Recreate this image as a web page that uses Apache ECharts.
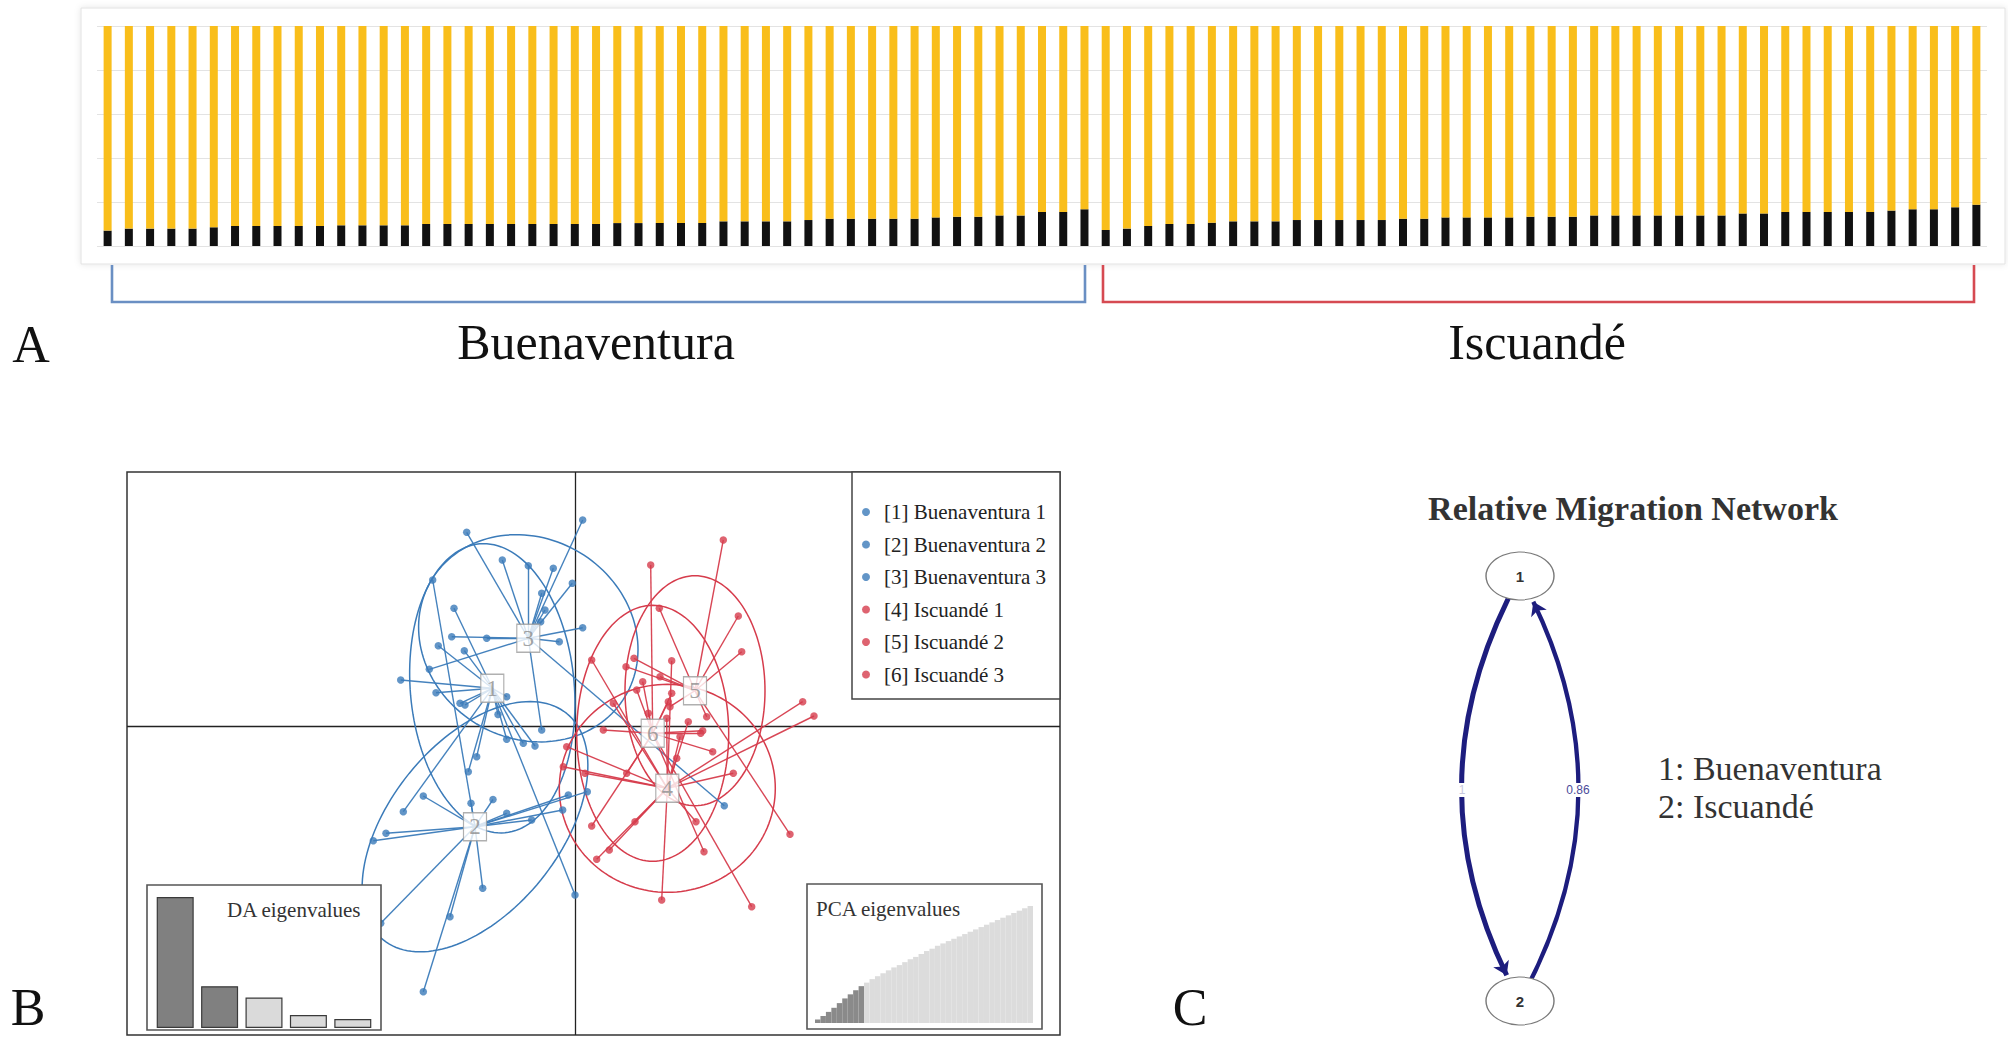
<!DOCTYPE html>
<html><head><meta charset="utf-8">
<script src="https://cdn.jsdelivr.net/npm/echarts@6/dist/echarts.min.js"></script>
<style>html,body{margin:0;padding:0;background:#fff}#c{width:2008px;height:1050px}</style>
</head><body><div id="c"></div>
<script>
// ---------- Panel A: membership (black cluster share, %) ----------
const buenaventuraBlack = [7.0, 7.9, 7.9, 7.9, 7.9, 8.5, 9.1, 9.1, 9.1, 9.1, 9.1, 9.4, 9.4, 9.4, 9.4, 10.0, 10.0, 10.0, 10.0, 10.0, 10.0, 10.0, 10.0, 10.0, 10.4, 10.4, 10.5, 10.5, 10.5, 11.2, 11.2, 11.2, 11.2, 11.8, 12.4, 12.4, 12.4, 12.4, 12.4, 13.0, 13.3, 13.3, 13.9, 13.9, 15.5, 15.5, 16.7];
const iscuandeBlack = [7.3, 7.9, 9.1, 10.0, 10.0, 10.6, 11.2, 11.2, 11.2, 11.8, 11.8, 11.8, 11.8, 11.8, 12.4, 12.4, 13.0, 13.0, 13.0, 13.0, 13.3, 13.3, 13.3, 13.9, 13.9, 13.9, 13.9, 13.9, 13.9, 13.9, 14.8, 14.8, 15.5, 15.5, 15.5, 15.5, 15.5, 16.1, 16.7, 16.7, 17.6, 18.8];
const populationLabels = ['Buenaventura', 'Iscuandé'];
const yTicks = [0, 20, 40, 60, 80, 100];

// ---------- Panel B: DAPC scatter ----------
const groupNames = ['[1] Buenaventura 1', '[2] Buenaventura 2', '[3] Buenaventura 3', '[4] Iscuandé 1', '[5] Iscuandé 2', '[6] Iscuandé 3'];
const groupCentroids = [[-8.27, 3.82], [-10.0, -10.02], [-4.67, 8.82], [9.23, -6.18], [12.0, 3.58], [7.77, -0.68]];
const group1Points = [[-12.1, 11.82], [-13.67, 8.08], [-11.07, 7.58], [-17.43, 4.65], [-13.9, 3.38], [-11.5, 2.32], [-11.0, 2.15], [-6.83, 2.98], [-6.83, -1.28], [-5.17, -1.68], [-4.0, -1.95], [-9.83, -3.02], [-10.67, -4.52], [-17.17, -8.52], [0.0, -16.85], [-7.7, 1.2]];
const group2Points = [[-14.23, 14.65], [-10.4, -7.68], [-15.17, -6.95], [-18.9, -10.68], [-20.17, -11.42], [-6.83, -8.68], [-4.33, -9.35], [-1.23, -8.35], [-0.67, -6.85], [1.23, -6.52], [-9.23, -16.18], [-12.5, -19.02], [-19.43, -19.68], [-15.17, -26.52], [-8.2, -7.3]];
const group3Points = [[-10.83, 19.42], [-7.27, 16.65], [-4.67, 16.08], [-2.17, 15.82], [-3.33, 13.32], [-0.27, 14.32], [0.77, 20.65], [-12.33, 8.98], [-8.83, 8.82], [-14.57, 5.72], [-3.43, 10.48], [0.77, 9.88], [-1.57, 8.48], [-3.33, -0.35], [14.93, -7.92], [-3.0, 11.65]];
const group4Points = [[1.67, 6.65], [9.67, 6.58], [3.83, 2.32], [9.17, 0.82], [11.33, 0.48], [10.17, -3.18], [-0.83, -2.02], [-1.17, -4.02], [1.0, -4.68], [15.83, -4.68], [22.77, 2.48], [23.9, 1.05], [12.1, -9.52], [6.0, -9.52], [3.43, -12.35], [2.17, -13.28], [8.67, -17.35], [10.5, -1.02]];
const group5Points = [[14.83, 18.65], [8.43, 11.82], [16.33, 11.05], [16.67, 7.48], [5.9, 6.82], [5.1, 5.98], [21.5, -10.78], [9.5, 1.98], [13.17, 0.98], [8.5, 4.98]];
const group6Points = [[7.57, 16.15], [6.77, 4.48], [6.17, 3.65], [9.67, 3.32], [9.33, 2.48], [2.83, -0.35], [12.77, -0.42], [12.57, -0.68], [13.77, -2.52], [12.9, -12.52], [1.67, -9.95], [17.67, -18.02], [7.33, 1.32], [5.17, -4.68]];
// inertia ellipses: [centerX, centerY, semiMajor, semiMinor, angleDeg]
const groupEllipses = [[-8.27, 3.82, 14.5, 8.2, 95], [-10.0, -10.02, 14.57, 8.47, 51], [-4.67, 8.82, 11.3, 10.0, -31], [9.23, -6.18, 10.8, 10.4, 0], [12.0, 3.58, 11.5, 7.0, 90], [7.77, -0.68, 12.8, 7.6, 90]];
const daEigenvalues = [100, 31.9, 23.3, 9.9, 6.9];
const daRetained = 2;
const pcaCumulative = [3, 6, 9.5, 13, 17, 21, 24.5, 28, 31.5, 34.5, 37.5, 40, 42.5, 45, 47.5, 49.5, 52, 54.5, 56.5, 59, 61.5, 63.5, 66, 68, 70, 72, 74, 76, 78, 80, 82, 84, 86, 88, 90, 92, 94, 96, 98, 100];
const pcaRetained = 9;

// ---------- Panel C: relative migration network ----------
const migrationNodes = ['1', '2'];
const migrationNodeNames = ['1: Buenaventura', '2: Iscuandé'];
const migrationEdges = [{ source: '1', target: '2', value: 1 }, { source: '2', target: '1', value: 0.86 }];

// ---------- build ----------
const SERIF = "'Liberation Serif','Times New Roman','DejaVu Serif',serif";
const SANS = "'Liberation Sans',Arial,sans-serif";
const BLUE = '#3b7bb9', RED = '#d63c4c';
const groupColors = [BLUE, BLUE, BLUE, RED, RED, RED];
const groupPoints = [group1Points, group2Points, group3Points, group4Points, group5Points, group6Points];

const membershipBlack = buenaventuraBlack.concat(iscuandeBlack);
const membershipYellow = membershipBlack.map(v => +(100 - v).toFixed(1));
const individualLabels = buenaventuraBlack.map((_, i) => 'B' + (i + 1)).concat(iscuandeBlack.map((_, i) => 'I' + (i + 1)));

const X_MIN = -44.8, X_MAX = 48.5, Y_MIN = -30.85, Y_MAX = 25.45;

const series = [];
// Panel A bars
series.push({ type: 'bar', xAxisIndex: 0, yAxisIndex: 0, stack: 'm', data: membershipBlack, barWidth: 8, itemStyle: { color: '#111111' }, z: 2 });
series.push({ type: 'bar', xAxisIndex: 0, yAxisIndex: 0, stack: 'm', data: membershipYellow, barWidth: 8, itemStyle: { color: '#f9be1b' }, z: 2 });

// Panel B zero lines
series.push({ type: 'lines', name: 'axes0', coordinateSystem: 'cartesian2d', xAxisIndex: 1, yAxisIndex: 1, silent: true, z: 1,
  lineStyle: { color: '#222', width: 1.3, opacity: 1 },
  data: [{ coords: [[0, Y_MIN], [0, Y_MAX]] }, { coords: [[X_MIN, 0], [X_MAX, 0]] }] });

// ellipses
series.push({ type: 'custom', name: 'ellipses', xAxisIndex: 1, yAxisIndex: 1, silent: true, z: 2,
  renderItem: function (params, api) {
    const cx = api.value(0), cy = api.value(1), a = api.value(2), b = api.value(3), th = api.value(4) * Math.PI / 180;
    const pts = [];
    for (let k = 0; k < 144; k++) {
      const t = k / 144 * Math.PI * 2;
      pts.push(api.coord([cx + a * Math.cos(t) * Math.cos(th) - b * Math.sin(t) * Math.sin(th),
                          cy + a * Math.cos(t) * Math.sin(th) + b * Math.sin(t) * Math.cos(th)]));
    }
    return { type: 'polygon', shape: { points: pts }, style: { fill: 'none', stroke: api.visual('color'), lineWidth: 1.5 } };
  },
  dimensions: ['x', 'y', 'a', 'b', 'ang'], encode: { x: 0, y: 1 },
  data: groupEllipses.map((e, i) => ({ value: e, itemStyle: { color: groupColors[i] } })) });

groupPoints.forEach((pts, g) => {
  series.push({ type: 'lines', name: 'links' + g, coordinateSystem: 'cartesian2d', xAxisIndex: 1, yAxisIndex: 1, silent: true, z: 2,
    lineStyle: { color: groupColors[g], width: 1.4, opacity: 0.95 },
    data: pts.map(p => ({ coords: [p, groupCentroids[g]] })) });
  series.push({ type: 'scatter', name: groupNames[g], xAxisIndex: 1, yAxisIndex: 1, z: 3,
    symbol: 'circle', symbolSize: 7.5, itemStyle: { color: groupColors[g] }, data: pts });
});

series.push({ type: 'scatter', name: 'centroids', xAxisIndex: 1, yAxisIndex: 1, z: 5, symbol: 'rect', symbolSize: [23, 28],
  itemStyle: { color: '#ffffff', borderColor: '#9c9c9c', borderWidth: 1.3 },
  label: { show: true, position: 'inside', fontFamily: SERIF, fontSize: 23, color: '#8c8c8c' },
  data: groupCentroids.map((c, i) => ({ value: c, label: { formatter: String(i + 1) } })) });

// DA eigenvalues inset
series.push({ type: 'bar', xAxisIndex: 2, yAxisIndex: 2, z: 6, barWidth: 37,
  data: daEigenvalues.map((v, i) => ({ value: v, itemStyle: { color: i < daRetained ? '#808080' : '#dadada', borderColor: '#3a3a3a', borderWidth: 1.2 } })) });
// PCA eigenvalues inset
series.push({ type: 'bar', xAxisIndex: 3, yAxisIndex: 3, z: 6, barCategoryGap: '0%',
  data: pcaCumulative.map((v, i) => ({ value: v, itemStyle: { color: i < pcaRetained ? '#8a8a8a' : '#dcdcdc', borderWidth: 0 } })) });

// Panel C graph
series.push({ type: 'graph', coordinateSystem: 'cartesian2d', xAxisIndex: 4, yAxisIndex: 4, z: 6,
  symbol: 'circle', symbolSize: [68, 48],
  itemStyle: { color: '#ffffff', borderColor: '#7a7a7a', borderWidth: 1.2 },
  label: { show: true, position: 'inside', fontFamily: SANS, fontSize: 15, fontWeight: 'bold', color: '#333' },
  edgeSymbol: ['none', 'arrow'], edgeSymbolSize: [0, 13],
  lineStyle: { color: '#1d1d7e', curveness: -0.275, opacity: 1 },
  data: migrationNodes.map((n, i) => ({ name: n, value: [0.5, i === 0 ? 0.928 : 0.078] })),
  links: migrationEdges.map(e => ({ source: e.source, target: e.target, value: e.value, lineStyle: { width: 5 * e.value } })) });

const hidden = { show: false };
const option = {
  animation: false,
  backgroundColor: '#ffffff',
  grid: [
    { left: 97, top: 26, width: 1890, height: 220 },
    { left: 127, top: 472, width: 933, height: 563, show: true, borderColor: '#333', borderWidth: 1.5, backgroundColor: 'transparent' },
    { left: 153, top: 897, width: 222, height: 131 },
    { left: 815, top: 906, width: 218, height: 117 },
    { left: 1400, top: 540, width: 240, height: 500 }
  ],
  xAxis: [
    { gridIndex: 0, type: 'category', data: individualLabels, axisLine: hidden, axisTick: hidden, axisLabel: hidden },
    { gridIndex: 1, type: 'value', min: X_MIN, max: X_MAX, show: false },
    { gridIndex: 2, type: 'category', data: daEigenvalues.map((_, i) => 'DA' + (i + 1)), show: false },
    { gridIndex: 3, type: 'category', data: pcaCumulative.map((_, i) => 'PC' + (i + 1)), show: false },
    { gridIndex: 4, type: 'value', min: 0, max: 1, show: false }
  ],
  yAxis: [
    { gridIndex: 0, type: 'value', min: yTicks[0], max: yTicks[yTicks.length - 1], interval: 20, axisLine: hidden, axisTick: hidden, axisLabel: hidden,
      splitLine: { show: true, lineStyle: { color: '#e3e3e3', width: 1 } } },
    { gridIndex: 1, type: 'value', min: Y_MIN, max: Y_MAX, show: false },
    { gridIndex: 2, type: 'value', min: 0, max: 100, show: false },
    { gridIndex: 3, type: 'value', min: 0, max: 100, show: false },
    { gridIndex: 4, type: 'value', min: 0, max: 1, show: false }
  ],
  legend: {
    data: groupNames.map(n => ({ name: n, icon: 'circle' })),
    orient: 'vertical', left: 857, top: 496, itemWidth: 26, itemHeight: 8, itemGap: 10.5,
    textStyle: { fontFamily: SERIF, fontSize: 21, color: '#222', lineHeight: 22 },
    selectedMode: false, z: 10
  },
  graphic: [
    { type: 'rect', z: -5, shape: { x: 81, y: 8, width: 1924, height: 256 }, style: { fill: '#fff', stroke: '#e2e2e2', lineWidth: 1, shadowBlur: 6, shadowColor: 'rgba(0,0,0,0.10)' } },
    { type: 'polyline', z: 1, shape: { points: [[112, 265], [112, 302], [1085, 302], [1085, 265]] }, style: { stroke: '#6a8fc3', lineWidth: 2.6, fill: 'none' } },
    { type: 'polyline', z: 1, shape: { points: [[1103, 265], [1103, 302], [1974, 302], [1974, 265]] }, style: { stroke: '#d64a52', lineWidth: 2.6, fill: 'none' } },
    { type: 'text', z: 10, x: 31, y: 344, style: { text: 'A', font: '52px ' + SERIF, fill: '#111', textAlign: 'center', textVerticalAlign: 'middle' } },
    { type: 'text', z: 10, x: 28, y: 1007, style: { text: 'B', font: '52px ' + SERIF, fill: '#111', textAlign: 'center', textVerticalAlign: 'middle' } },
    { type: 'text', z: 10, x: 1190, y: 1007, style: { text: 'C', font: '52px ' + SERIF, fill: '#111', textAlign: 'center', textVerticalAlign: 'middle' } },
    { type: 'text', z: 10, x: 596, y: 342, style: { text: populationLabels[0], font: '50px ' + SERIF, fill: '#111', textAlign: 'center', textVerticalAlign: 'middle' } },
    { type: 'text', z: 10, x: 1537, y: 342, style: { text: populationLabels[1], font: '50px ' + SERIF, fill: '#111', textAlign: 'center', textVerticalAlign: 'middle' } },
    // inset boxes
    { type: 'rect', z: 4, shape: { x: 852, y: 472, width: 208, height: 227 }, style: { fill: '#fff', stroke: '#444', lineWidth: 1.5 } },
    { type: 'rect', z: 4, shape: { x: 147, y: 885, width: 234, height: 145 }, style: { fill: '#fff', stroke: '#555', lineWidth: 1.6 } },
    { type: 'rect', z: 4, shape: { x: 807, y: 884, width: 235, height: 145 }, style: { fill: '#fff', stroke: '#555', lineWidth: 1.6 } },
    { type: 'text', z: 10, x: 227, y: 910, style: { text: 'DA eigenvalues', font: '21px ' + SERIF, fill: '#333', textAlign: 'left', textVerticalAlign: 'middle' } },
    { type: 'text', z: 10, x: 816, y: 909, style: { text: 'PCA eigenvalues', font: '21px ' + SERIF, fill: '#333', textAlign: 'left', textVerticalAlign: 'middle' } },
    // panel C texts
    { type: 'text', z: 10, x: 1633, y: 508, style: { text: 'Relative Migration Network', font: 'bold 34px ' + SERIF, fill: '#333', textAlign: 'center', textVerticalAlign: 'middle' } },
    { type: 'text', z: 10, x: 1658, y: 768, style: { text: migrationNodeNames[0], font: '34px ' + SERIF, fill: '#333', textAlign: 'left', textVerticalAlign: 'middle' } },
    { type: 'text', z: 10, x: 1658, y: 806, style: { text: migrationNodeNames[1], font: '34px ' + SERIF, fill: '#333', textAlign: 'left', textVerticalAlign: 'middle' } },
    { type: 'text', z: 10, x: 1462, y: 790, style: { text: String(migrationEdges[0].value), font: '12px ' + SANS, fill: '#c8c8de', backgroundColor: '#ffffff', padding: [1, 1], textAlign: 'center', textVerticalAlign: 'middle' } },
    { type: 'text', z: 10, x: 1578, y: 790, style: { text: String(migrationEdges[1].value), font: '12px ' + SANS, fill: '#4b4b9a', backgroundColor: '#ffffff', padding: [1, 0], textAlign: 'center', textVerticalAlign: 'middle' } }
  ],
  series: series
};
const chart = echarts.init(document.getElementById('c'), null, { renderer: 'svg', width: 2008, height: 1050 });
chart.setOption(option);
</script></body></html>
